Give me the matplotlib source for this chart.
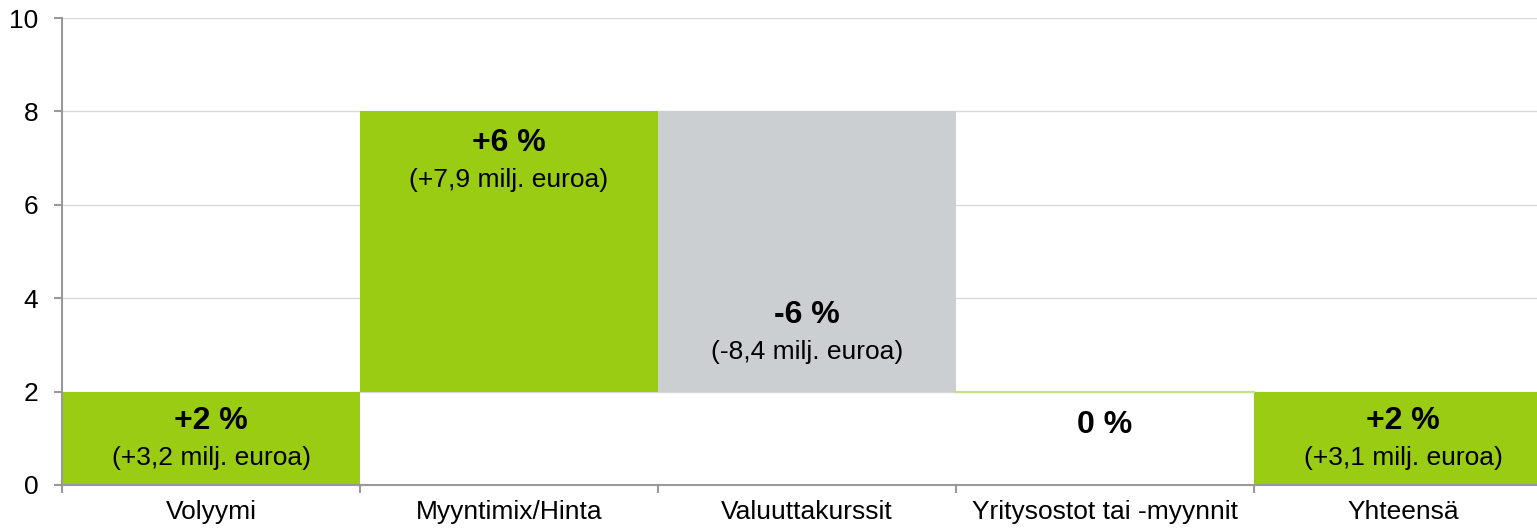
import matplotlib.pyplot as plt
import numpy as np

plt.rcParams['font.family'] = ['Liberation Sans', 'DejaVu Sans']

categories = ['Volyymi', 'Myyntimix/Hinta', 'Valuuttakurssit', 'Yritysostot tai -myynnit', 'Yhteensä']
bottoms = [0, 2, 2, 2, 0]
heights = [2, 6, 6, 0, 2]
colors = ['#99cc13', '#99cc13', '#cccfd1', '#c5e08a', '#99cc13']
pct_labels = ['+2 %', '+6 %', '-6 %', '0 %', '+2 %']
eur_labels = ['(+3,2 milj. euroa)', '(+7,9 milj. euroa)', '(-8,4 milj. euroa)', '', '(+3,1 milj. euroa)']
label_y = [1.37, 7.32, 3.64, 1.28, 1.37]

fig = plt.figure(figsize=(15.37, 5.30), dpi=100)
ax = fig.add_axes([62/1537, 1-485/530, (1552-62)/1537, (485-18)/530])

x = np.arange(len(categories))
ax.bar(x, heights, bottom=bottoms, width=1.0, color=colors, zorder=2)
# zero-height bar drawn as thin line
for i, h in enumerate(heights):
    if h == 0:
        ax.plot([i-0.5, i+0.5], [bottoms[i], bottoms[i]], color=colors[i], lw=1.5, zorder=3)

for i in range(len(categories)):
    ax.text(x[i], label_y[i], pct_labels[i], ha='center', va='center',
            fontsize=23, fontweight='bold', color='black', zorder=4)
    if eur_labels[i]:
        ax.text(x[i], label_y[i]-0.79, eur_labels[i], ha='center', va='center',
                fontsize=19, color='black', zorder=4)

ax.set_xlim(-0.5, len(categories)-0.5)
ax.set_ylim(0, 10)
ax.set_yticks(range(0, 11, 2))
ax.set_xticks(np.arange(-0.5, len(categories)-0.4, 1.0))
ax.set_xticklabels([])
ax.set_xticks(x, minor=True)
ax.set_xticklabels(categories, minor=True)
ax.tick_params(axis='x', which='minor', length=0, pad=11, labelsize=19)
ax.tick_params(axis='x', which='major', length=6, color='#999999', width=1.5, direction='out')
ax.tick_params(axis='y', length=6, color='#999999', width=1.5, labelsize=19, pad=11)

ax.grid(axis='y', color='#d9d9d9', lw=1, zorder=0)
ax.set_axisbelow(True)
for s in ['top', 'right']:
    ax.spines[s].set_visible(False)
for s in ['left', 'bottom']:
    ax.spines[s].set_color('#999999')
    ax.spines[s].set_linewidth(1.5)

fig.savefig('out.png', dpi=100)
